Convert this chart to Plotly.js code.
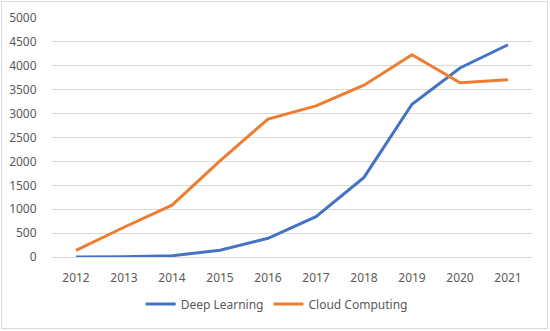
<!DOCTYPE html>
<html>
<head>
<meta charset="utf-8">
<script src="https://cdn.plot.ly/plotly-3.0.1.min.js"></script>
<style>
html,body{margin:0;padding:0;background:#fff;}
#wrap{position:relative;width:550px;height:331px;}
#chart{position:absolute;left:0;top:0;width:550px;height:331px;}
#frame{position:absolute;left:1px;top:1px;width:547px;height:328px;border:1px solid #d9d9d9;box-sizing:border-box;pointer-events:none;}
</style>
</head>
<body>
<div id="wrap"><div id="chart"></div><div id="frame"></div></div>
<script>
const years = ["2012","2013","2014","2015","2016","2017","2018","2019","2020","2021"];
const deepLearning = [0, 5, 27, 140, 392, 844, 1665, 3195, 3955, 4440];
const cloudComputing = [140, 622, 1085, 2012, 2884, 3160, 3595, 4232, 3645, 3707];
const yTicks = [0,500,1000,1500,2000,2500,3000,3500,4000,4500,5000];

const font = {family: "Noto Sans, sans-serif", size: 12, color: "#595959"};

const traces = [
  {x: years, y: deepLearning, name: "Deep Learning", type: "scatter", mode: "lines",
   line: {color: "#4472C4", width: 3}},
  {x: years, y: cloudComputing, name: "Cloud Computing", type: "scatter", mode: "lines",
   line: {color: "#ED7D31", width: 3}}
];

const layout = {
  width: 550, height: 331,
  margin: {l: 52, r: 18, t: 18, b: 72},
  paper_bgcolor: "#fff", plot_bgcolor: "#fff",
  font: font,
  showlegend: true,
  legend: {orientation: "h", x: 0.468, xanchor: "center", y: -0.197, yanchor: "middle",
           font: font, itemwidth: 30, tracegroupgap: 0},
  xaxis: {type: "category", range: [-0.5, 9.5], showgrid: false, zeroline: false,
          showline: false, ticks: "outside", ticklen: 10, tickcolor: "rgba(0,0,0,0)",
          tickfont: font, fixedrange: true},
  yaxis: {range: [0, 5000], tickvals: yTicks, ticktext: yTicks.map(String),
          showgrid: true, gridcolor: "#d9d9d9", gridwidth: 1,
          zeroline: true, zerolinecolor: "#d9d9d9", zerolinewidth: 1,
          showline: false, ticks: "outside", ticklen: 12, tickcolor: "rgba(0,0,0,0)",
          tickfont: font, fixedrange: true}
};

Plotly.newPlot("chart", traces, layout, {displayModeBar: false, staticPlot: true});
</script>
</body>
</html>
